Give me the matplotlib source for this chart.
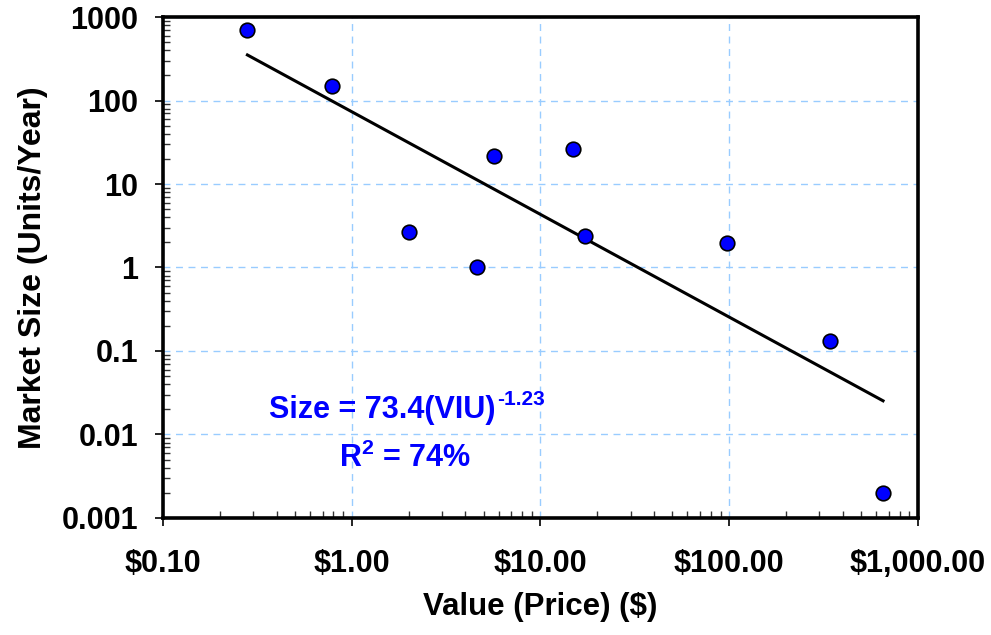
import numpy as np
import matplotlib
matplotlib.use("Agg")
from matplotlib import pyplot as plt
from matplotlib.ticker import FixedLocator, LogLocator, NullFormatter

# 数据
price = [0.28, 0.79, 2.0, 4.6, 5.7, 14.8, 17.3, 97.5, 342, 653]
size = [700, 148, 2.65, 1.0, 21.6, 26.2, 2.4, 1.97, 0.132, 0.002]

fit_a = 73.4
fit_b = -1.23
r2 = 74

x_ticks = [0.1, 1, 10, 100, 1000]
x_labels = ["$0.10", "$1.00", "$10.00", "$100.00", "$1,000.00"]
y_ticks = [0.001, 0.01, 0.1, 1, 10, 100, 1000]
y_labels = ["0.001", "0.01", "0.1", "1", "10", "100", "1000"]

plt.rcParams['font.family'] = ['Liberation Sans', 'DejaVu Sans']
plt.rcParams['font.weight'] = 'bold'
plt.rcParams['mathtext.fontset'] = 'custom'
plt.rcParams['mathtext.rm'] = 'Liberation Sans:bold'
plt.rcParams['mathtext.bf'] = 'Liberation Sans:bold'

fig = plt.figure(figsize=(9.91, 6.35), dpi=100)
ax = fig.add_axes([0.1645, 0.1843, 0.7618, 0.7889])

ax.set_xscale('log')
ax.set_yscale('log')
ax.set_xlim(0.1, 1000)
ax.set_ylim(0.001, 1000)

# 网格
ax.grid(True, which='major', color='#99ccff', linestyle=(0, (5, 4)), linewidth=1)
ax.set_axisbelow(True)

# 趋势线
xs = np.logspace(np.log10(min(price)), np.log10(max(price)), 100)
ax.plot(xs, fit_a * xs ** fit_b, color='black', linewidth=2.2, zorder=2)

# 散点
ax.plot(price, size, 'o', markersize=10.5, markerfacecolor='#0000ff',
        markeredgecolor='black', markeredgewidth=1.2, zorder=3)

# 刻度
ax.xaxis.set_major_locator(FixedLocator(x_ticks))
ax.set_xticklabels(x_labels)
ax.yaxis.set_major_locator(FixedLocator(y_ticks))
ax.set_yticklabels(y_labels)
ax.xaxis.set_minor_locator(LogLocator(base=10, subs=np.arange(2, 10)))
ax.yaxis.set_minor_locator(LogLocator(base=10, subs=np.arange(2, 10)))
ax.xaxis.set_minor_formatter(NullFormatter())
ax.yaxis.set_minor_formatter(NullFormatter())
ax.tick_params(which='major', direction='out', length=6, width=1.2, labelsize=22)
ax.tick_params(axis='x', which='major', pad=16)
ax.tick_params(axis='y', which='major', pad=12)
ax.tick_params(which='minor', direction='in', length=5, width=1, color='#333333')

for s in ax.spines.values():
    s.set_linewidth(2.6)

ax.set_xlabel("Value (Price) ($)", fontsize=22.5, fontweight='bold', labelpad=10)
ax.set_ylabel("Market Size (Units/Year)", fontsize=23, fontweight='bold', labelpad=10)

eq = ax.text(0.29, 0.2156, "Size = %.1f(VIU)" % fit_a,
             transform=ax.transAxes, color='#0000ff', fontsize=22, fontweight='bold',
             ha='center', va='center')
ax.annotate("%.2f" % fit_b, xy=(1, 1), xycoords=eq, xytext=(1.5, -3),
            textcoords='offset points', color='#0000ff', fontsize=15,
            fontweight='bold', ha='left', va='center')
ax.text(0.32, 0.12, "R$^{2}$ = %d%%" % r2,
        transform=ax.transAxes, color='#0000ff', fontsize=22, fontweight='bold',
        ha='center', va='center')

plt.savefig('out.png', dpi=100)
